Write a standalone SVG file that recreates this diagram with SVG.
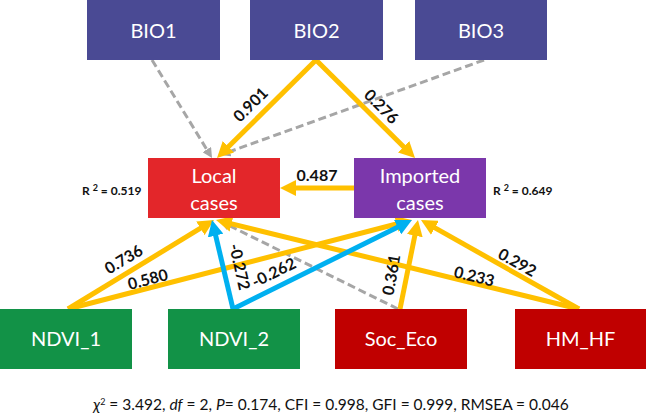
<svg xmlns="http://www.w3.org/2000/svg" width="646" height="415" viewBox="0 0 646 415">
<defs>
<style>
.box{stroke:none}
.bio{fill:#4A4A94}
.loc{fill:#E3262A}
.imp{fill:#7B37AB}
.grn{fill:#129247}
.drd{fill:#C00000}
.bt{font-family:Lato,"Open Sans","Liberation Sans",sans-serif;font-size:20px;fill:#fff;text-anchor:middle}
.lbl{font-family:Lato,"Open Sans","Liberation Sans",sans-serif;font-size:16px;font-weight:bold;fill:#111;text-anchor:middle}
.r2{font-family:Lato,"Open Sans","Liberation Sans",sans-serif;font-size:12px;font-weight:bold;fill:#111}
.fm{font-family:Lato,"Open Sans","Liberation Sans",sans-serif;font-size:15.5px;fill:#111;text-anchor:middle}
.or{stroke:#FFC000;stroke-width:5;fill:none;marker-end:url(#ao)}
.bl{stroke:#00B0F0;stroke-width:5;fill:none;marker-end:url(#ab)}
.gr{stroke:#A6A6A6;stroke-width:3;stroke-dasharray:8 4;fill:none;marker-end:url(#ag)}
</style>
<marker id="ao" markerUnits="userSpaceOnUse" markerWidth="16" markerHeight="16" refX="6" refY="8" orient="auto"><path d="M0,0 L16,8 L0,16 z" fill="#FFC000"/></marker>
<marker id="ab" markerUnits="userSpaceOnUse" markerWidth="16" markerHeight="16" refX="6" refY="8" orient="auto"><path d="M0,0 L16,8 L0,16 z" fill="#00B0F0"/></marker>
<marker id="ag" markerUnits="userSpaceOnUse" markerWidth="10" markerHeight="10" refX="4" refY="5" orient="auto"><path d="M0,0 L10,5 L0,10 z" fill="#A6A6A6"/></marker>
</defs>
<rect width="646" height="415" fill="#fff"/>
<g id="connectors">
<line class="gr" x1="152" y1="60" x2="208.9" y2="152.9"/>
<line class="gr" x1="484" y1="60" x2="226" y2="153"/>
<line class="gr" x1="398" y1="309" x2="225.4" y2="223.7"/>
<line class="or" x1="316" y1="60" x2="224.1" y2="151"/>
<line class="or" x1="316" y1="60" x2="407.9" y2="151"/>
<line class="or" x1="354" y1="188" x2="290" y2="188"/>
<line class="or" x1="68" y1="309" x2="205.5" y2="225.2"/>
<line class="or" x1="68" y1="309" x2="402.3" y2="222.5"/>
<line class="or" x1="400" y1="309" x2="416" y2="229.8"/>
<line class="or" x1="579" y1="309" x2="225.7" y2="222.4"/>
<line class="or" x1="579" y1="309" x2="429.7" y2="224.9"/>
<line class="bl" x1="233" y1="309" x2="214.3" y2="229.7"/>
<line class="bl" x1="233" y1="309" x2="403" y2="224.5"/>
</g>
<g id="BIO1"><rect class="box bio" x="87" y="0" width="133" height="60"/><text class="bt" x="153.5" y="38">BIO1</text></g>
<g id="BIO2"><rect class="box bio" x="250" y="0" width="133" height="60"/><text class="bt" x="316.5" y="38">BIO2</text></g>
<g id="BIO3"><rect class="box bio" x="415" y="0" width="132" height="60"/><text class="bt" x="481" y="38">BIO3</text></g>
<g id="Local"><rect class="box loc" x="148" y="158" width="132" height="60"/><text class="bt" x="214" y="183" font-size="21">Local</text><text class="bt" x="214" y="210" font-size="21">cases</text></g>
<g id="Imported"><rect class="box imp" x="354" y="158" width="132" height="60"/><text class="bt" x="420" y="183" font-size="21">Imported</text><text class="bt" x="420" y="210" font-size="21">cases</text></g>
<g id="NDVI_1"><rect class="box grn" x="0" y="309" width="132" height="60"/><text class="bt" x="66" y="346">NDVI_1</text></g>
<g id="NDVI_2"><rect class="box grn" x="168" y="309" width="132" height="60"/><text class="bt" x="234" y="346">NDVI_2</text></g>
<g id="Soc_Eco"><rect class="box drd" x="335" y="309" width="132" height="60"/><text class="bt" x="401" y="346">Soc_Eco</text></g>
<g id="HM_HF"><rect class="box drd" x="515" y="309" width="131" height="60"/><text class="bt" x="580.5" y="346">HM_HF</text></g>
<g id="labels">
<text class="lbl" transform="translate(251,105) rotate(-45)" y="5">0.901</text>
<text class="lbl" transform="translate(381,107) rotate(45)" y="5">0.276</text>
<text class="lbl" x="317" y="181">0.487</text>
<text class="lbl" transform="translate(124,260) rotate(-31)" y="5">0.736</text>
<text class="lbl" transform="translate(148,280) rotate(-14.5)" y="5">0.580</text>
<text class="lbl" transform="translate(239,267) rotate(77)" y="5">-0.272</text>
<text class="lbl" transform="translate(274,273) rotate(-26.4)" y="5">-0.262</text>
<text class="lbl" transform="translate(392,275) rotate(-80)" y="5">0.361</text>
<text class="lbl" transform="translate(474,277) rotate(13.7)" y="5">0.233</text>
<text class="lbl" transform="translate(517,263) rotate(29)" y="5">0.292</text>
<text class="r2" x="82" y="195">R <tspan dy="-4" font-size="9">2</tspan><tspan dy="4"> = 0.519</tspan></text>
<text class="r2" x="493" y="195">R <tspan dy="-4" font-size="9">2</tspan><tspan dy="4"> = 0.649</tspan></text>
<text class="fm" x="331" y="410"><tspan font-style="italic">χ</tspan><tspan dy="-5" font-size="9">2</tspan><tspan dy="5"> = 3.492, </tspan><tspan font-style="italic">df</tspan> = 2, <tspan font-style="italic">P</tspan>= 0.174, CFI = 0.998, GFI = 0.999, RMSEA = 0.046</text>
</g>
</svg>
